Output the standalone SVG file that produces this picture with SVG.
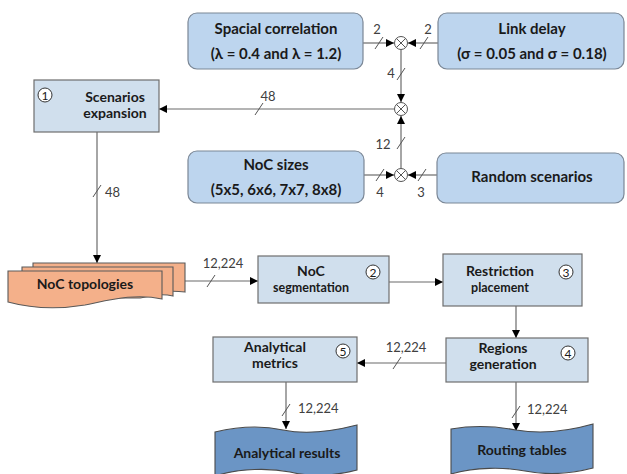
<svg xmlns="http://www.w3.org/2000/svg" width="627" height="474" viewBox="0 0 627 474">
  <style>
    .rbox { fill: #bdd5ee; stroke: #7b8796; stroke-width: 1.2; }
    .sbox { fill: #d0dfed; stroke: #6e6e6e; stroke-width: 1.2; }
    .t { font-family: Lato, "Open Sans", "Liberation Sans", sans-serif; font-weight: bold; font-size: 14px; fill: #1a1a1a; text-anchor: middle; }
    .tl { font-size: 15px; }
    .ts { font-size: 12.5px; }
    .lbl { font-family: Lato, "Open Sans", "Liberation Sans", sans-serif; font-size: 13px; fill: #404040; }
    .num { font-family: Lato, "Liberation Sans", sans-serif; font-size: 12px; fill: #1a1a1a; text-anchor: middle; }
    .badge { fill: #ffffff; stroke: #333333; stroke-width: 1; }
    .mix { fill: #ffffff; stroke: #555555; stroke-width: 1; }
    .edge { fill: none; stroke: #6b6b6b; stroke-width: 1.2; }
    .arr { marker-end: url(#head); }
    .tick { stroke: #555555; stroke-width: 1; }
    .topo { fill: #f4b08a; stroke: #5a5a5a; stroke-width: 1.1; }
    .tape { fill: #6b95c5; stroke: #4a4a4a; stroke-width: 1.1; }
  </style>
  <defs>
    <marker id="head" viewBox="0 0 10 10" refX="10" refY="5" markerWidth="8" markerHeight="8" markerUnits="userSpaceOnUse" orient="auto">
      <path d="M0,0 L10,5 L0,10 Z" fill="#000000"/>
    </marker>
    <g id="mixer">
      <circle class="mix" r="6.5"/>
      <path d="M-4.6,-4.6 L4.6,4.6 M-4.6,4.6 L4.6,-4.6" stroke="#555555" stroke-width="1"/>
    </g>
  </defs>

  <rect width="627" height="474" fill="#ffffff"/>

  <!-- connectors -->
  <g id="connectors">
    <path class="edge arr" d="M363,43 H394"/>
    <path class="edge arr" d="M438,43 H408"/>
    <path class="edge arr" d="M401,49.5 V102"/>
    <path class="edge arr" d="M394.5,109 H159"/>
    <path class="edge arr" d="M401,168.5 V116"/>
    <path class="edge arr" d="M364,175 H394"/>
    <path class="edge arr" d="M437,175 H408"/>
    <path class="edge arr" d="M97,132 V263"/>
    <path class="edge arr" d="M185,281 H258"/>
    <path class="edge arr" d="M389,282 H443"/>
    <path class="edge arr" d="M516,306 V338"/>
    <path class="edge arr" d="M446,363 H357"/>
    <path class="edge arr" d="M286,382 V429"/>
    <path class="edge arr" d="M516,382 V431"/>

    <!-- bus-width ticks -->
    <g class="tick">
      <line x1="375" y1="49" x2="383" y2="37"/>
      <line x1="420" y1="49" x2="428" y2="37"/>
      <line x1="397" y1="80" x2="405" y2="68"/>
      <line x1="255" y1="115" x2="263" y2="103"/>
      <line x1="397" y1="149" x2="405" y2="137"/>
      <line x1="376" y1="181" x2="384" y2="169"/>
      <line x1="418" y1="181" x2="426" y2="169"/>
      <line x1="93" y1="197" x2="101" y2="185"/>
      <line x1="207" y1="287" x2="215" y2="275"/>
      <line x1="393" y1="369" x2="401" y2="357"/>
      <line x1="282" y1="416" x2="290" y2="404"/>
      <line x1="512" y1="418" x2="520" y2="406"/>
    </g>

    <!-- bus-width labels -->
    <text class="lbl" x="377" y="34" text-anchor="middle">2</text>
    <text class="lbl" x="428" y="34" text-anchor="middle">2</text>
    <text class="lbl" x="391" y="78" text-anchor="middle">4</text>
    <text class="lbl" x="268" y="101" text-anchor="middle">48</text>
    <text class="lbl" x="383" y="149" text-anchor="middle">12</text>
    <text class="lbl" x="380" y="197" text-anchor="middle">4</text>
    <text class="lbl" x="421" y="197" text-anchor="middle">3</text>
    <text class="lbl" x="105" y="197">48</text>
    <text class="lbl" x="223" y="268" text-anchor="middle">12,224</text>
    <text class="lbl" x="406" y="352" text-anchor="middle">12,224</text>
    <text class="lbl" x="298" y="413">12,224</text>
    <text class="lbl" x="527" y="414">12,224</text>
  </g>

  <!-- combiners -->
  <g id="mixer-top"><use href="#mixer" x="401" y="43"/></g>
  <g id="mixer-mid"><use href="#mixer" x="401" y="109"/></g>
  <g id="mixer-bottom"><use href="#mixer" x="401" y="175"/></g>

  <!-- input parameter boxes -->
  <g id="spacial-correlation">
    <rect class="rbox" x="188" y="13" width="175" height="56" rx="9"/>
    <text class="t tl" x="276" y="34">Spacial correlation</text>
    <text class="t tl" x="276" y="59">(λ = 0.4 and λ = 1.2)</text>
  </g>
  <g id="link-delay">
    <rect class="rbox" x="438" y="13" width="186" height="56" rx="9"/>
    <text class="t tl" x="532" y="34">Link delay</text>
    <text class="t tl" x="532" y="59">(σ = 0.05 and σ = 0.18)</text>
  </g>
  <g id="noc-sizes">
    <rect class="rbox" x="188" y="151" width="176" height="52" rx="9"/>
    <text class="t tl" x="276" y="170">NoC sizes</text>
    <text class="t tl" x="276" y="195">(5x5, 6x6, 7x7, 8x8)</text>
  </g>
  <g id="random-scenarios">
    <rect class="rbox" x="437" y="153" width="187" height="50" rx="9"/>
    <text class="t tl" x="532" y="182">Random scenarios</text>
  </g>

  <!-- processing steps -->
  <g id="scenarios-expansion">
    <rect class="sbox" x="34" y="80" width="125" height="52"/>
    <circle class="badge" cx="45" cy="95" r="7"/>
    <text class="num" x="45" y="99.5">1</text>
    <text class="t" x="115" y="102">Scenarios</text>
    <text class="t" x="115" y="118">expansion</text>
  </g>

  <g id="noc-topologies">
    <path class="topo" d="M33,263 H185 V292 C170,290 160,292 150,294 L33,294 Z"/>
    <path class="topo" d="M22,267 H173 V296 C160,293 150,296 140,298 L22,298 Z"/>
    <path class="topo" d="M8,271 H162 V299 C135,293 110,300 85,305 C55,310 30,308 8,302 Z"/>
    <text class="t" x="85" y="289">NoC topologies</text>
  </g>

  <g id="noc-segmentation">
    <rect class="sbox" x="258" y="256" width="131" height="47"/>
    <circle class="badge" cx="373" cy="272" r="7"/>
    <text class="num" x="373" y="276.5">2</text>
    <text class="t" x="311" y="276">NoC</text>
    <text class="t ts" x="311" y="292">segmentation</text>
  </g>

  <g id="restriction-placement">
    <rect class="sbox" x="443" y="254" width="139" height="52"/>
    <circle class="badge" cx="566" cy="272" r="7"/>
    <text class="num" x="566" y="276.5">3</text>
    <text class="t" x="500" y="276">Restriction</text>
    <text class="t ts" x="500" y="292">placement</text>
  </g>

  <g id="regions-generation">
    <rect class="sbox" x="446" y="338" width="142" height="44"/>
    <circle class="badge" cx="568" cy="353" r="7"/>
    <text class="num" x="568" y="357.5">4</text>
    <text class="t" x="503" y="353">Regions</text>
    <text class="t" x="503" y="369">generation</text>
  </g>

  <g id="analytical-metrics">
    <rect class="sbox" x="213" y="337" width="144" height="45"/>
    <circle class="badge" cx="343" cy="351" r="7"/>
    <text class="num" x="343" y="355.5">5</text>
    <text class="t" x="275" y="352">Analytical</text>
    <text class="t" x="275" y="368">metrics</text>
  </g>

  <!-- outputs -->
  <g id="analytical-results">
    <path class="tape" d="M215,432 C240,426 265,426 283,430 C303,434 330,432 357,425 V470 C335,476 310,477 290,472 C270,468 240,468 215,476 Z"/>
    <text class="t" x="287" y="458">Analytical results</text>
  </g>
  <g id="routing-tables">
    <path class="tape" d="M451,429 C475,425 495,426 516,430 C540,434 565,432 593,424 V468 C570,474 545,475 525,471 C505,467 475,467 451,474 Z"/>
    <text class="t" x="522" y="455">Routing tables</text>
  </g>
</svg>
